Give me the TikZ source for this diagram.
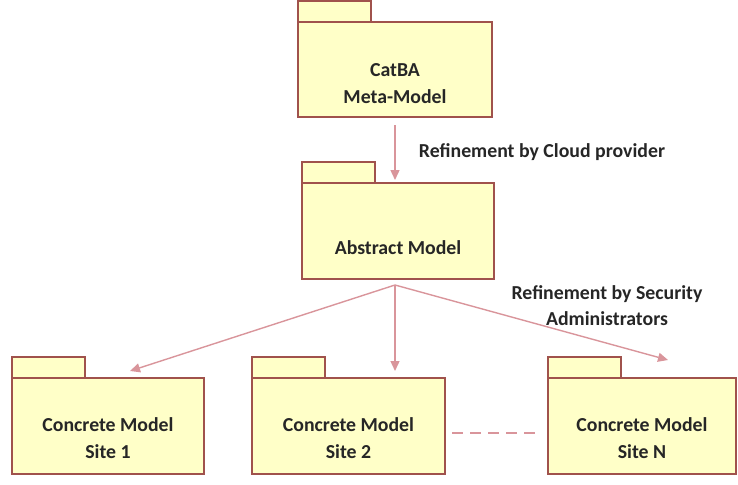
\documentclass[tikz,border=0pt]{standalone}
\usepackage{fontspec}
\setmainfont{Carlito}
\usetikzlibrary{arrows.meta, positioning}
\definecolor{pkgfill}{HTML}{FFFFC8}
\definecolor{pkgline}{HTML}{A0524C}
\definecolor{refine}{HTML}{D9959B}
\definecolor{ink}{HTML}{262626}
\tikzset{
  pkg/.style    ={draw=pkgline, line width=1.8pt, fill=pkgfill, inner sep=0pt,
                  outer sep=0pt, minimum height=96pt, anchor=north west},
  tab/.style    ={draw=pkgline, line width=1.8pt, fill=pkgfill, inner sep=0pt,
                  outer sep=0pt, minimum width=73pt, minimum height=21pt},
  pkgtext/.style={font=\bfseries\fontsize{19.8}{27}\selectfont, text=ink, align=center},
  flow/.style   ={-{Triangle[length=10pt,width=9pt]}, line width=1.4pt, draw=refine},
  note/.style   ={font=\bfseries\fontsize{19.8}{26}\selectfont, text=ink, align=center}
}

\begin{document}
\begin{tikzpicture}[x=1pt, y=-1pt]
  \useasboundingbox (0,0) rectangle (738,484);

  % package bodies
  \node[pkg, minimum width=194pt, minimum height=95pt] (catba) at (298,22) {};
  \node[pkg, minimum width=192pt] (abstr) at (302,183) {};
  \node[pkg, minimum width=192pt] (site1) at (12,378)  {};
  \node[pkg, minimum width=193pt] (site2) at (252,378) {};
  \node[pkg, minimum width=188pt] (siteN) at (548,378) {};

  % package tabs
  \node[tab, above right=0pt of catba.north west] (catba-tab) {};
  \node[tab, above right=0pt of abstr.north west] (abstr-tab) {};
  \node[tab, above right=0pt of site1.north west] (site1-tab) {};
  \node[tab, above right=0pt of site2.north west] (site2-tab) {};
  \node[tab, above right=0pt of siteN.north west] (siteN-tab) {};

  % package names
  \node[pkgtext] (catba-txt) at ([yshift=-14pt]catba.center) {CatBA\\Meta-Model};
  \node[pkgtext] (abstr-txt) at ([yshift=-17pt]abstr.center) {Abstract Model};
  \node[pkgtext] (site1-txt) at ([yshift=-12pt]site1.center) {Concrete Model\\Site 1};
  \node[pkgtext] (site2-txt) at ([yshift=-12pt]site2.center) {Concrete Model\\Site 2};
  \node[pkgtext] (siteN-txt) at ([yshift=-12pt]siteN.center) {Concrete Model\\Site N};

  % refinements
  \coordinate (fork) at ([xshift=-3pt,yshift=-6pt]abstr.south);
  \draw[flow] ([yshift=-8pt]catba.south) -- ([yshift=3pt]catba.south |- abstr.north);
  \draw[flow] (fork) -- ([xshift=22pt,yshift=7pt]site1.north);
  \draw[flow] (fork) -- ([yshift=7pt]fork |- site2.north);
  \draw[flow] (fork) -- ([xshift=26pt,yshift=18pt]siteN.north);
  \draw[refine, line width=1.4pt, dash pattern=on 11pt off 7pt]
    ([xshift=7pt,yshift=-7pt]site2.east) -- ([xshift=-10pt,yshift=-7pt]siteN.west);

  \node[note] (cloud-lbl) at (542,152) {Refinement by Cloud provider};
  \node[note] (sec-lbl)   at (607,306) {Refinement by Security\\Administrators};
\end{tikzpicture}
\end{document}
